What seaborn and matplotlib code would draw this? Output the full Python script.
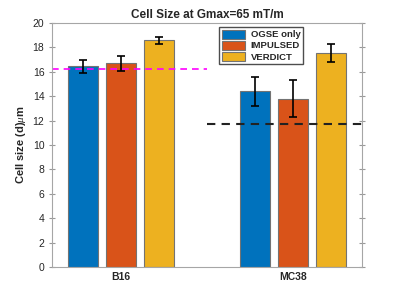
import numpy as np
import pandas as pd
import matplotlib
matplotlib.use("Agg")
import matplotlib.pyplot as plt
import seaborn as sns

# data
groups = ["B16", "MC38"]
methods = ["OGSE only", "IMPULSED", "VERDICT"]
b16_vals = [16.45, 16.7, 18.6]
b16_err = [0.55, 0.6, 0.3]
mc38_vals = [14.4, 13.8, 17.55]
mc38_err = [1.2, 1.5, 0.7]
ref_b16 = 16.25
ref_mc38 = 11.7
colors = ["#0072BD", "#D95319", "#EDB120"]

df = pd.DataFrame({
    "group": [g for g in groups for _ in methods],
    "method": methods * 2,
    "size": b16_vals + mc38_vals,
    "err": b16_err + mc38_err,
})

sns.set_style("white")
plt.rcParams['font.family'] = ['Liberation Sans', 'DejaVu Sans']
plt.rcParams['mathtext.fontset'] = 'custom'
plt.rcParams['mathtext.it'] = 'Liberation Serif:italic'

fig = plt.figure(figsize=(4, 3), dpi=100)
ax = fig.add_axes([0.13, 0.11, 0.775, 0.813])

sns.barplot(data=df, x="group", y="size", hue="method", palette=colors,
            width=0.66, gap=0.2, edgecolor="0.45", linewidth=0.8,
            errorbar=None, ax=ax, saturation=1)

# error bars at the bar centres
for cont, m in zip(ax.containers, methods):
    sub = df[df["method"] == m]
    xs = [p.get_x() + p.get_width() / 2 for p in cont.patches]
    ax.errorbar(xs, sub["size"], yerr=sub["err"], fmt="none", ecolor="black",
                elinewidth=1.2, capsize=3, capthick=1.2, zorder=5)

ax.plot([-0.4, 0.5], [ref_b16, ref_b16], ls="--", color="#FF00FF", lw=1.2, dashes=(4, 3))
ax.plot([0.5, 1.4], [ref_mc38, ref_mc38], ls="--", color="#222222", lw=1.5, dashes=(4, 3))

ax.set_xlim(-0.4, 1.4)
ax.set_ylim(0, 20)
ax.set_yticks(np.arange(0, 21, 2))
ax.set_xlabel("")
ax.set_ylabel(r"Cell size (d)$\mu$m", fontsize=8, fontweight="bold", labelpad=3)
ax.set_title("Cell Size at Gmax=65 mT/m", fontsize=8.5, fontweight="bold", pad=4)
ax.tick_params(axis="both", direction="in", length=3, labelsize=7.5, color="0.6",
               labelcolor="0.15", right=True, top=False, left=True, bottom=True)
ax.tick_params(axis="y", which="both", left=True, direction="inout", length=4)
for lab in ax.get_xticklabels():
    lab.set_fontweight("bold")
for s in ax.spines.values():
    s.set_color("0.65")
    s.set_linewidth(0.8)

leg = ax.legend(loc="upper left", bbox_to_anchor=(0.54, 0.985), borderaxespad=0,
                fontsize=6.8, handlelength=2.4, handleheight=1.1, borderpad=0.3,
                labelspacing=0.15, handletextpad=0.6, fancybox=False,
                edgecolor="0.3", framealpha=1)
for t in leg.get_texts():
    t.set_fontweight("bold")
for h in leg.legend_handles:
    h.set_edgecolor("0.45")

fig.savefig("out.png", dpi=100)
